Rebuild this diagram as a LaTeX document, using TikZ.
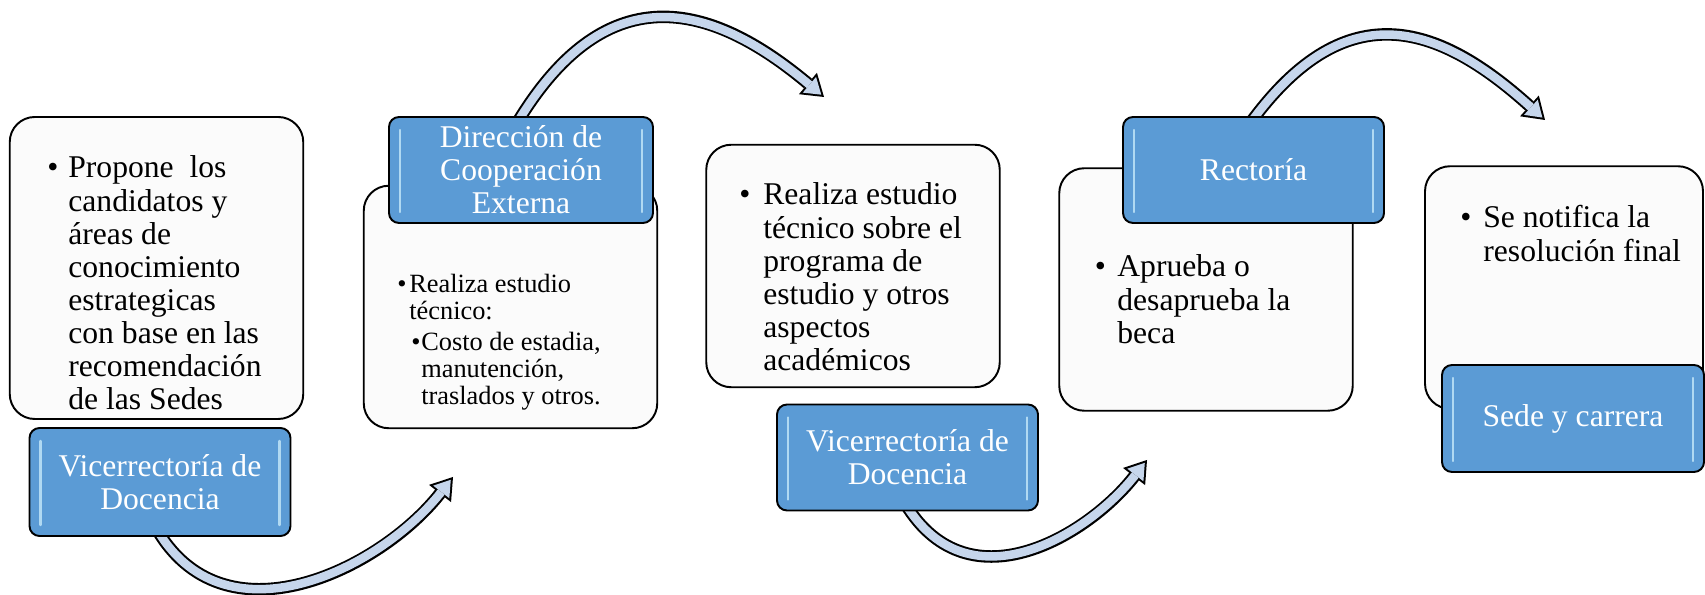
\documentclass[tikz,border=0pt]{standalone}
\usepackage{fontspec}
\setmainfont{Liberation Serif}
\usepackage{tikz}
\usetikzlibrary{arrows.meta,positioning,calc,backgrounds}
\definecolor{azulcaja}{RGB}{91,155,213}
\definecolor{azulflecha}{RGB}{198,214,236}
\definecolor{grisfondo}{RGB}{251,251,251}
\definecolor{brilloazul}{RGB}{205,238,252}
\newcommand{\punto}[2][0.4cm]{\makebox[#1][l]{\textbullet}\begin{tabular}[t]{@{}l@{}}#2\end{tabular}}

\begin{document}
\begin{tikzpicture}[
    caja/.style={rectangle, draw=black, fill=grisfondo, rounded corners=0.5cm, line width=1.1pt,
                 minimum width=5.87cm, minimum height=4.85cm},
    oficina/.style={rectangle, draw=black, fill=azulcaja, rounded corners=0.2cm, line width=1.1pt,
                    minimum width=5.22cm, minimum height=2.12cm, inner sep=2pt, text=white, align=center,
                    font=\fontsize{18}{18.8}\selectfont,
                    path picture={
                      \draw[brillo] ([xshift=0.22cm,yshift=-0.26cm]path picture bounding box.north west) -- ([xshift=0.22cm,yshift=0.22cm]path picture bounding box.south west);
                      \draw[brillo] ([xshift=-0.22cm,yshift=-0.26cm]path picture bounding box.north east) -- ([xshift=-0.22cm,yshift=0.22cm]path picture bounding box.south east);}},
    brillo/.style={line width=1.4pt, draw=brilloazul, draw opacity=0.75, line cap=round},
    texto/.style={anchor=base west, inner sep=0pt, font=\fontsize{18}{18.8}\selectfont},
    flecha/.style={draw=azulflecha, line width=0.17cm, shorten >=0.072cm,
                   -{Triangle[length=0.308cm, width=0.41cm, line width=0pt]},
                   preaction={draw=black, line width=0.25cm, shorten >=0pt,
                              -{Triangle[length=0.42cm, width=0.56cm, line width=0pt]}}}
]
\useasboundingbox (0,0) rectangle (34.1,11.9);

% Boxes with the steps
\node[caja, minimum height=6.04cm] (propuesta) at (3.13,6.54) {};
\node[caja] (estudio) at (10.21,5.76) {};
\node[caja] (tecnico) at (17.06,6.58) {};
\node[caja] (aprobacion) at (24.12,6.11) {};
\node[caja, minimum width=5.56cm] (notificacion) at (31.28,6.15) {};

% Texts of the steps
\node[texto] (propuestatxt) at (0.94,8.34) {\punto[0.42cm]{Propone\ \ los\\candidatos y\\áreas de\\conocimiento\\estrategicas\\con base en las\\recomendación\\de las Sedes}};
\node[texto, font=\fontsize{15}{15.3}\selectfont] (estudiotxt) at (7.94,6.04) {\punto[0.24cm]{Realiza estudio\\técnico:\\[2.3pt]\hspace{0.04cm}\punto[0.2cm]{Costo de estadia,\\manutención,\\traslados y otros.}}};
\node[texto] (tecnicotxt) at (14.78,7.8) {\punto[0.48cm]{Realiza estudio\\técnico sobre el\\programa de\\estudio y otros\\aspectos\\académicos}};
\node[texto] (aprobaciontxt) at (21.89,6.36) {\punto[0.45cm]{Aprueba o\\desaprueba la\\beca}};
\node[texto] (notificaciontxt) at (29.2,7.34) {\punto[0.46cm]{Se notifica la\\resolución final}};

% Offices (blue labels)
\node[oficina, minimum height=2.16cm] (vicedoc1) at (3.2,2.26) {Vicerrectoría de\\Docencia};
\node[oficina, minimum width=5.28cm] (cooperacion) at (10.42,8.5) {Dirección de\\Cooperación\\Externa};
\node[oficina] (vicedoc2) at (18.15,2.75) {Vicerrectoría de\\Docencia};
\node[oficina] (rectoria) at (25.07,8.5) {Rectoría};
\node[oficina, minimum width=5.24cm, minimum height=2.14cm] (sede) at (31.46,3.53) {Sede y carrera};

% Arrow tips
\coordinate (puntaA) at (9.06,2.36);
\coordinate (puntaB) at (16.48,9.96);
\coordinate (puntaC) at (22.94,2.7);
\coordinate (puntaD) at (30.9,9.5);

% Curved arrows, behind the labels
\begin{scope}[on background layer]
\draw[flecha] ($(vicedoc1.south)+(-0.1,0.22)$) .. controls (4.44,-1.05) and (7.6,0.5) .. (puntaA);
\draw[flecha] ($(cooperacion.north)+(-0.15,-0.26)$) .. controls (12.07,12.42) and (14.18,11.89) .. (puntaB);
\draw[flecha] ($(vicedoc2.south)+(-0.1,0.25)$) .. controls (19.31,-0.32) and (21.77,1.2) .. (puntaC);
\draw[flecha] ($(rectoria.north)+(-0.15,-0.26)$) .. controls (26.87,12.09) and (28.75,11.44) .. (puntaD);
\end{scope}

\end{tikzpicture}
\end{document}
